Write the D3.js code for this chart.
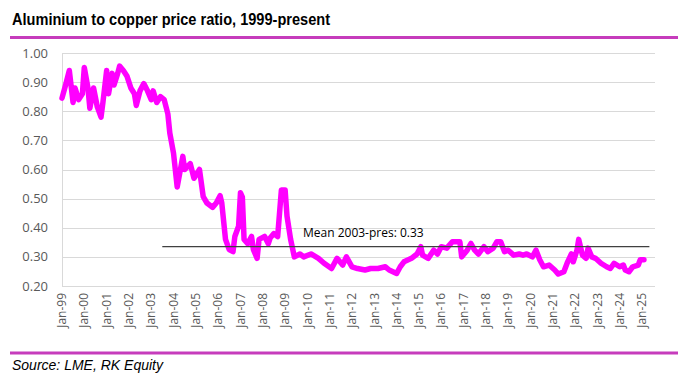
<!DOCTYPE html>
<html>
<head>
<meta charset="utf-8">
<script src="https://cdn.jsdelivr.net/npm/d3@7"></script>
<style>
  body { margin: 0; background: #fff; }
  svg { display: block; }
  .tick-label { font-family: "Open Sans", sans-serif; fill: #595959; }
</style>
</head>
<body>
<svg id="chart" width="686" height="387"></svg>
<script>
// dates (YYYY-MM) and aluminium / copper price ratio
const months = [
  "1999-01","1999-03","1999-05","1999-07","1999-08","1999-10","1999-12",
  "2000-01","2000-03","2000-04","2000-06","2000-08","2000-10","2000-11",
  "2001-01","2001-02","2001-04","2001-05","2001-07","2001-08","2001-10","2001-12",
  "2002-02","2002-04","2002-05","2002-07","2002-09","2002-11",
  "2003-01","2003-02","2003-04","2003-06","2003-08","2003-10","2003-11",
  "2004-01","2004-03","2004-06","2004-07","2004-10","2004-12",
  "2005-03","2005-05","2005-07","2005-10","2005-12",
  "2006-02","2006-03","2006-05","2006-07","2006-09","2006-10","2006-12",
  "2007-01","2007-02","2007-03","2007-05","2007-07","2007-08","2007-10","2007-11",
  "2008-02","2008-04","2008-05","2008-07","2008-09","2008-11",
  "2009-01","2009-02","2009-04","2009-06","2009-09","2009-11",
  "2010-03","2010-07","2010-10","2011-02","2011-05","2011-08","2011-10",
  "2012-01","2012-04","2012-08","2012-11","2013-03","2013-07","2013-09",
  "2014-01","2014-03","2014-05","2014-09","2014-12",
  "2015-02","2015-03","2015-06","2015-09","2015-11",
  "2016-01","2016-04","2016-07","2016-09","2016-11","2016-12",
  "2017-03","2017-05","2017-07","2017-09","2017-12",
  "2018-02","2018-05","2018-07","2018-09","2018-11",
  "2019-01","2019-04","2019-07","2019-09","2019-11",
  "2020-02","2020-04","2020-06","2020-08","2020-11",
  "2021-02","2021-04","2021-07","2021-09","2021-11","2021-12",
  "2022-02","2022-03","2022-05","2022-07","2022-08","2022-10","2022-12",
  "2023-03","2023-06","2023-08","2023-10",
  "2024-01","2024-03","2024-04","2024-06","2024-08","2024-11","2024-12",
  "2025-02"
];
const ratio = [
  0.845,0.89,0.94,0.83,0.88,0.84,0.86,
  0.95,0.88,0.81,0.88,0.815,0.78,0.83,
  0.94,0.86,0.93,0.89,0.93,0.955,0.94,0.92,
  0.88,0.86,0.82,0.87,0.895,0.87,
  0.84,0.87,0.83,0.85,0.84,0.79,0.725,
  0.656,0.54,0.645,0.60,0.62,0.57,
  0.60,0.507,0.485,0.47,0.485,
  0.51,0.485,0.36,0.325,0.318,0.37,0.405,
  0.52,0.505,0.36,0.345,0.37,0.325,0.295,0.36,
  0.37,0.345,0.365,0.38,0.37,0.53,
  0.53,0.44,0.36,0.30,0.31,0.30,
  0.31,0.295,0.278,0.26,0.295,0.272,0.30,
  0.266,0.26,0.255,0.26,0.26,0.266,0.255,
  0.243,0.266,0.283,0.295,0.31,
  0.335,0.306,0.295,0.323,0.31,
  0.335,0.33,0.352,0.352,0.352,0.30,
  0.323,0.346,0.323,0.31,0.335,
  0.318,0.33,0.352,0.352,0.318,
  0.323,0.306,0.31,0.306,0.31,
  0.30,0.323,0.29,0.266,0.272,
  0.255,0.241,0.249,0.283,0.31,0.283,
  0.323,0.36,0.306,0.295,0.33,0.30,0.295,
  0.278,0.266,0.26,0.278,
  0.266,0.272,0.255,0.249,0.266,0.272,0.29,
  0.29
];
const yTicks = [0.2, 0.3, 0.4, 0.5, 0.6, 0.7, 0.8, 0.9, 1.0];
const tickYears = d3.range(1999, 2026);
const meanValue = 0.335;
const meanLabel = "Mean 2003-pres: 0.33";
const meanStart = "2003-07";
const meanEnd = "2025-05";

const parse = d3.timeParse("%Y-%m");
const series = months.map((m, i) => ({ date: parse(m), value: ratio[i] }));

const svg = d3.select("#chart");
const plotLeft = 62, plotRight = 655, plotTop = 53, plotBottom = 286;

const x = d3.scaleTime()
    .domain([new Date(1999, 0, 1), new Date(2025, 7, 1)])
    .range([plotLeft, plotRight]);
const y = d3.scaleLinear().domain([0.2, 1.0]).range([plotBottom, plotTop]);

// Title + header rule (narrow bold face squeezed to the original width)
svg.append("text")
    .attr("x", 12).attr("y", 25)
    .attr("textLength", 318)
    .attr("lengthAdjust", "spacingAndGlyphs")
    .style("font-family", "'Liberation Sans Narrow', 'Arial Narrow', 'Liberation Sans', sans-serif")
    .style("font-weight", "bold")
    .style("font-size", "16px")
    .attr("fill", "#000")
    .text("Aluminium to copper price ratio, 1999-present");

svg.append("line")
    .attr("x1", 10).attr("x2", 678).attr("y1", 37.5).attr("y2", 37.5)
    .attr("stroke", "#c63cbc").attr("stroke-width", 3);

// Gridlines
svg.append("g")
    .selectAll("line")
    .data(yTicks)
    .join("line")
    .attr("x1", plotLeft).attr("x2", plotRight)
    .attr("y1", d => Math.round(y(d)) + 0.5).attr("y2", d => Math.round(y(d)) + 0.5)
    .attr("stroke", "#d9d9d9").attr("stroke-width", 1);

// Left axis line
svg.append("line")
    .attr("x1", plotLeft + 0.5).attr("x2", plotLeft + 0.5)
    .attr("y1", plotTop).attr("y2", plotBottom)
    .attr("stroke", "#d9d9d9");

// Y labels
svg.append("g")
    .selectAll("text")
    .data(yTicks)
    .join("text")
    .attr("class", "tick-label")
    .attr("x", 48).attr("y", d => y(d))
    .attr("dy", "0.35em")
    .attr("text-anchor", "end")
    .style("font-size", "13px")
    .text(d => d.toFixed(2));

// X labels (rotated)
const fmt = d3.timeFormat("%b-%y");
svg.append("g")
    .selectAll("text")
    .data(tickYears.map(yr => new Date(yr, 0, 1)))
    .join("text")
    .attr("class", "tick-label")
    .attr("transform", d => `translate(${x(d)},293) rotate(-90)`)
    .attr("dy", "0.35em")
    .attr("text-anchor", "end")
    .style("font-size", "12px")
    .text(d => fmt(d));

// Ratio line
const line = d3.line()
    .x(d => x(d.date))
    .y(d => y(d.value));

svg.append("path")
    .datum(series)
    .attr("d", line)
    .attr("fill", "none")
    .attr("stroke", "#ff00ff")
    .attr("stroke-width", 5.5)
    .attr("stroke-linejoin", "round")
    .attr("stroke-linecap", "round");

// Mean line and label
svg.append("line")
    .attr("x1", x(parse(meanStart))).attr("x2", x(parse(meanEnd)))
    .attr("y1", y(meanValue)).attr("y2", y(meanValue))
    .attr("stroke", "#404040").attr("stroke-width", 1.3);

svg.append("text")
    .attr("x", 303).attr("y", 237)
    .style("font-family", "'Open Sans', sans-serif")
    .style("font-size", "12px")
    .attr("fill", "#000")
    .text(meanLabel);

// Footer rule + source
svg.append("line")
    .attr("x1", 10).attr("x2", 678).attr("y1", 353).attr("y2", 353)
    .attr("stroke", "#c63cbc").attr("stroke-width", 3);

svg.append("text")
    .attr("x", 12).attr("y", 370)
    .style("font-family", "'Liberation Sans Narrow', 'Arial Narrow', 'Liberation Sans', sans-serif")
    .style("font-style", "italic")
    .style("font-size", "14px")
    .attr("fill", "#000")
    .text("Source: LME, RK Equity");
</script>
</body>
</html>
